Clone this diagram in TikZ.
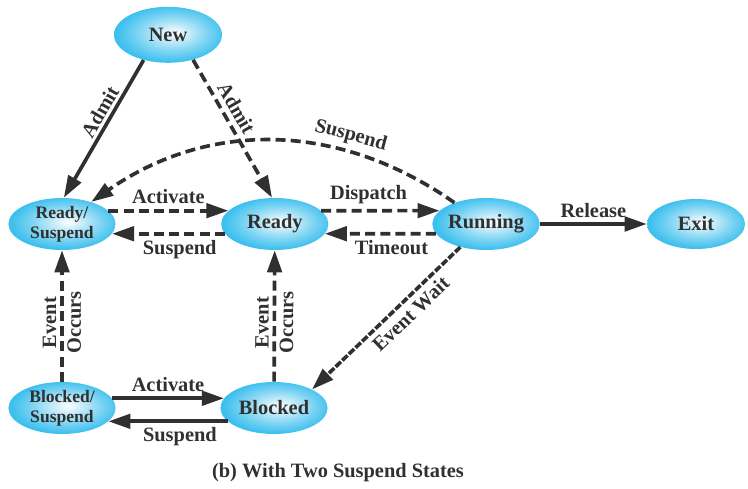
\documentclass[tikz,border=0pt]{standalone}
\usepackage{fontspec}
\setmainfont{Liberation Serif}
\usetikzlibrary{shapes.geometric}
\usetikzlibrary{arrows.meta}
\definecolor{bubbleblue}{RGB}{62,192,238}
\definecolor{bubblelight}{RGB}{222,243,251}
\definecolor{inkgray}{RGB}{48,48,48}
\pgfdeclareradialshading{bubble}{\pgfpoint{3bp}{2bp}}{color(0bp)=(white); color(4bp)=(bubblelight); color(16bp)=(bubbleblue!60!bubblelight); color(25bp)=(bubbleblue); color(50bp)=(bubbleblue)}
\tikzset{
  stateball/.style={ellipse, shading=bubble, minimum width=2.68cm, minimum height=1.3cm,
    inner sep=0pt, text=inkgray, align=center, font=\fontsize{14.5}{15}\selectfont\bfseries},
  smallball/.style={stateball, font=\fontsize{12.5}{14}\selectfont\bfseries},
  flow/.style={line width=2.6pt, draw=inkgray, -{Triangle[length=0.55cm,width=0.36cm]}},
  dashflow/.style={flow, dash pattern=on 0.25cm off 0.13cm},
  beadflow/.style={flow, dash pattern=on 0.18cm off 0.05cm},
  lbl/.style={text=inkgray, font=\fontsize{14.5}{17.5}\selectfont\bfseries, align=center},
}
\newcommand{\statenode}[5]{\node[#1] (#2) at ( #3 , #4 ) {#5};}

\begin{document}
\begin{tikzpicture}
\useasboundingbox (0,0) rectangle (18.7,12.2);
% states
\statenode{stateball, minimum width=2.7cm, minimum height=1.4cm}{new}{4.2}{11.33}{New}
\statenode{smallball}{rsusp}{1.55}{6.6}{Ready/\\Suspend}
\statenode{stateball}{ready}{6.87}{6.6}{Ready}
\statenode{stateball}{running}{12.15}{6.6}{Running}
\statenode{stateball, minimum width=2.45cm, minimum height=1.25cm}{exit}{17.4}{6.6}{Exit}
\statenode{smallball}{bsusp}{1.55}{2.0}{Blocked/\\Suspend}
\statenode{stateball}{blocked}{6.85}{2.0}{Blocked}
% admit
\draw[flow] (new.226) -- node[lbl, sloped, above, inner sep=2pt, pos=0.42] {Admit} (rsusp.86);
\draw[dashflow] (new.315) -- node[lbl, sloped, above, pos=0.4] {Admit} (ready.96);
% suspend from running
\draw[dashflow] (running.146) to[bend right=35] node[lbl, sloped, above, pos=0.3] {Suspend} (rsusp.37);
% top row
\draw[dashflow] (rsusp.16) -- node[lbl, above] {Activate} (ready.164);
\draw[dashflow] (ready.191) -- node[lbl, below, pos=0.4] {Suspend} (rsusp.349);
\draw[dashflow] (ready.16) -- node[lbl, above, pos=0.4] {Dispatch} (running.164);
\draw[dashflow] (running.191) -- node[lbl, below, pos=0.4] {Timeout} (ready.349);
\draw[flow] (running) -- node[lbl, above] {Release} (exit);
% event occurs
\draw[dashflow] (bsusp) -- node[lbl, sloped, pos=0.45] {Event\\Occurs} (rsusp);
\draw[dashflow] (blocked) -- node[lbl, sloped, pos=0.45] {Event\\Occurs} (ready);
\draw[beadflow] (running.222) -- node[lbl, sloped, below, pos=0.4] {Event Wait} (blocked.26);
% bottom row
\draw[flow] (bsusp.11) -- node[lbl, above] {Activate} (blocked.169);
\draw[flow] (blocked.196) -- node[lbl, below, pos=0.4] {Suspend} (bsusp.344);
% caption
\node[lbl] (caption) at (8.45,0.38) {(b) With Two Suspend States};
\end{tikzpicture}
\end{document}
